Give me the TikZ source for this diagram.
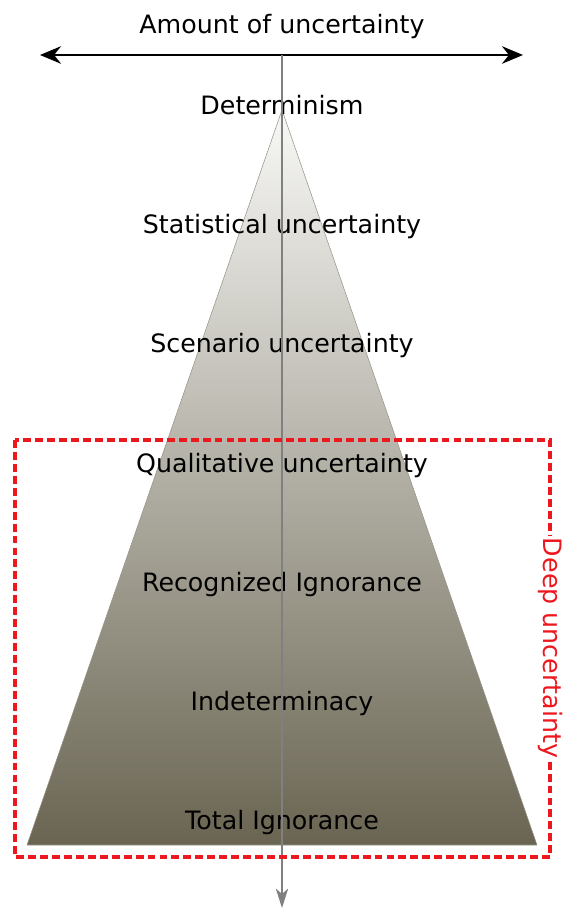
\documentclass[tikz,border=0pt]{standalone}
\usepackage{fontspec}
\setmainfont{DejaVu Sans}
\usepackage{tikz}
\usetikzlibrary{arrows.meta,positioning,calc}
\definecolor{mypale}{RGB}{248,248,246}
\definecolor{myolive}{RGB}{106,101,82}
\definecolor{myred}{RGB}{236,24,30}
\definecolor{myaxis}{RGB}{128,128,128}
\tikzstyle{level}=[anchor=base,inner sep=0pt,font=\fontsize{14.4}{17}\selectfont]
\tikzstyle{deep}=[draw=myred,line width=2pt,dash pattern=on 4.5pt off 2.3pt]

\begin{document}
\begin{tikzpicture}[x=0.02cm,y=-0.02cm]
\useasboundingbox (0,0) rectangle (563,911);

% the cone, light at the tip and dark at the base
\coordinate (apex) at (282,110);
\coordinate (bl) at (27,845);
\coordinate (br) at (537,845);
\shade[top color=mypale,bottom color=myolive,draw=myolive!70,line width=0.3pt]
  (apex) -- (br) -- (bl) -- cycle;

% uncertainty levels
\node [level] (det)  at (282,115) {Determinism};
\node [level] (stat) at (282,234) {Statistical uncertainty};
\node [level] (scen) at (282,353) {Scenario uncertainty};
\node [level] (qual) at (282,472) {Qualitative uncertainty};
\node [level] (rec)  at (282,591) {Recognized Ignorance};
\node [level] (ind)  at (282,710) {Indeterminacy};
\node [level] (tot)  at (282,829) {Total Ignorance};

% horizontal axis and its title
\node [level] (title) at (282,34) {Amount of uncertainty};
\coordinate (left) at (40,55);
\coordinate (right) at (523,55);
\coordinate (top) at (282,55);
\coordinate (bottom) at (282,908);
\draw [{Stealth[length=12pt,width=10pt,inset=4pt]}-{Stealth[length=12pt,width=10pt,inset=4pt]},line width=1.2pt]
  (left) -- (right);
\draw [-{Stealth[length=11pt,width=7pt,inset=3pt]},myaxis,line width=1pt] (top) -- (bottom);

% deep uncertainty frame
\draw [deep] (15,440) rectangle (550,857);
\node [fill=white,text=myred,rotate=-90,inner sep=1pt,font=\fontsize{14.4}{17}\selectfont]
  (deeplabel) at (550,648) {Deep uncertainty};
\end{tikzpicture}
\end{document}
